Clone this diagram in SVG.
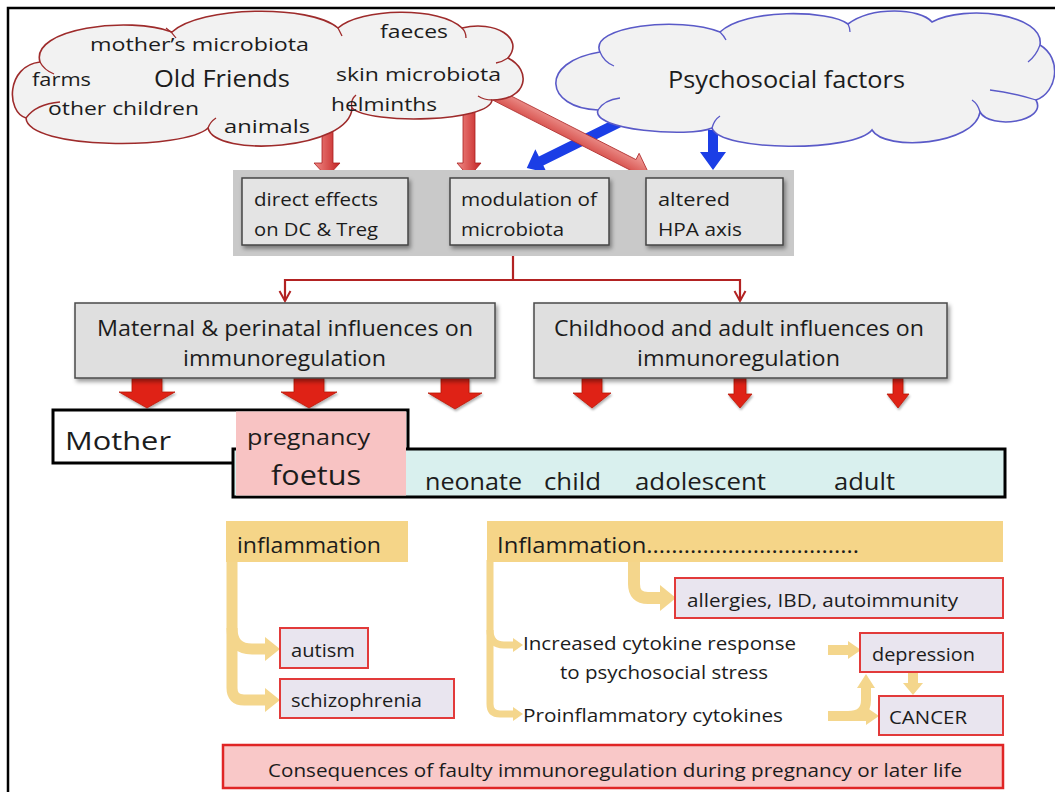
<svg xmlns="http://www.w3.org/2000/svg" width="1055" height="792" viewBox="0 0 1055 792">
<defs>
<style>
.t{font-family:"Open Sans","Liberation Sans",sans-serif;fill:#1c1c1c;}
.s19{font-size:19px}.s21{font-size:21px}.s23{font-size:23px}
.cl{fill:#f2f2f2;stroke-width:1.6}
.in{fill:none;stroke-width:1.3}
.mbox{fill:#e4e4e4;stroke:#454545;stroke-width:1.5}
.ibox{fill:#dfdfdf;stroke:#4a4a4a;stroke-width:1.5}
.out{fill:#e9e5ef;stroke:#e23a3a;stroke-width:2}
.tan{fill:#f5d588}
.ya{fill:none;stroke:#f4d68c;stroke-linecap:butt}
.yh{fill:#f4d68c}
.blk{fill:#df2412;stroke:#b81a0c;stroke-width:0.8}
.blue{fill:#1b3ee6}
</style>
<filter id="sh" x="-10%" y="-10%" width="130%" height="140%">
<feDropShadow dx="2" dy="3" stdDeviation="2" flood-color="#000" flood-opacity="0.4"/>
</filter>
<filter id="sh2" x="-30%" y="-30%" width="160%" height="160%">
<feDropShadow dx="1" dy="2" stdDeviation="1.2" flood-color="#000" flood-opacity="0.3"/>
</filter>
<linearGradient id="rg" x1="0" y1="0" x2="1" y2="0">
<stop offset="0" stop-color="#f08a86"/><stop offset="1" stop-color="#c42222"/>
</linearGradient>
<linearGradient id="rgd" x1="0" y1="0" x2="0" y2="1">
<stop offset="0" stop-color="#f3a5a0"/><stop offset="1" stop-color="#cf3a36"/>
</linearGradient>
<marker id="chev" viewBox="0 0 14 14" refX="12" refY="7" markerWidth="14" markerHeight="14" markerUnits="userSpaceOnUse" orient="auto">
<path d="M2 1.5 L12 7 L2 12.5" fill="none" stroke="#b22222" stroke-width="2"/>
</marker>
</defs>
<rect width="1055" height="792" fill="#fff"/>
<path d="M8 792 V8 H1055" fill="none" stroke="#000" stroke-width="2.5"/>

<g id="connectors">
<g transform="translate(620 122) rotate(153.7)">
<path class="blue" d="M0 -5 H88 V-13 L104 0 L88 13 V5 H0 Z"/>
</g>
<path class="blue" d="M708 130 H718 V152 H726 L713 170 L700 152 H708 Z"/>
<path fill="url(#rg)" stroke="#a82020" stroke-width="0.8" d="M322 130 H333 V163 H340 L327 177 L314 163 H322 Z"/>
<path fill="url(#rg)" stroke="#a82020" stroke-width="0.8" d="M463 98 H475 V163 H481 L469 177 L457 163 H463 Z"/>
<g transform="translate(496 95) rotate(27)">
<path fill="url(#rgd)" stroke="#b03030" stroke-width="0.8" d="M0 -6 H154 V-13 L171 0 L154 13 V6 H0 Z"/>
</g>
<path d="M513 256 V280 H285 V301" fill="none" stroke="#b22222" stroke-width="2.2" marker-end="url(#chev)"/>
<path d="M513 280 H740 V301" fill="none" stroke="#b22222" stroke-width="2.2" marker-end="url(#chev)"/>
<g filter="url(#sh2)">
<path class="blk" d="M132 378 H162 V392 H175 L147 408 L119 392 H132 Z"/>
<path class="blk" d="M294 378 H324 V392 H337 L309 408 L281 392 H294 Z"/>
<path class="blk" d="M441 378 H469 V393 H482 L455 409 L428 393 H441 Z"/>
<path class="blk" d="M582 378 H602 V393 H611 L592 408 L573 393 H582 Z"/>
<path class="blk" d="M734 378 H746 V394 H752 L740 408 L728 394 H734 Z"/>
<path class="blk" d="M893 378 H903 V394 H909 L898 408 L887 394 H893 Z"/>
</g>
<path class="ya" stroke-width="11" d="M232 560 V688 Q232 700 244 700 H266"/>
<path class="ya" stroke-width="11" d="M232 628 Q232 649 252 649 H266"/>
<path class="yh" d="M265 637 L280 649 L265 661 Z"/>
<path class="yh" d="M265 688 L280 700 L265 712 Z"/>
<path class="ya" stroke-width="7" d="M490 560 V704 Q490 714 500 714 H514"/>
<path class="ya" stroke-width="7" d="M490 630 Q490 645 504 645 H514"/>
<path class="yh" d="M513 638 L523 645 L513 652 Z"/>
<path class="yh" d="M513 707 L523 714 L513 721 Z"/>
<path class="ya" stroke-width="12" d="M634 560 V584 Q634 598 648 598 H661"/>
<path class="yh" d="M660 585 L676 598 L660 611 Z"/>
<path class="ya" stroke-width="10" d="M828 650 H849"/>
<path class="yh" d="M848 641 L861 650 L848 659 Z"/>
<path class="ya" stroke-width="10" d="M828 716 H867"/>
<path class="yh" d="M866 707 L879 716 L866 725 Z"/>
<path class="ya" stroke-width="10" d="M848 716 Q866 716 866 700 V688"/>
<path class="yh" d="M857 688 L866 674 L875 688 Z"/>
<path class="ya" stroke-width="10" d="M913 672 V684"/>
<path class="yh" d="M903 683 L913 695 L923 683 Z"/>
</g>

<g id="cloud-old-friends">
<path class="cl" stroke="#9e2b2b" d="M40 62 C30 28 130 16 172 32 C200 6 310 4 338 28 C360 8 440 6 462 28 C495 20 525 38 508 58 C532 70 528 100 492 100 C490 122 370 125 352 108 C350 150 215 158 208 128 C185 150 28 150 26 118 C6 112 6 66 40 62 Z"/>
<path class="in" stroke="#9e2b2b" d="M166 28 Q172 32 176 38 M338 28 Q340 32 342 36 M462 28 Q466 32 466 38 M508 58 Q502 62 496 63 M492 100 Q484 100 478 96 M352 108 Q350 100 356 95 M208 128 Q210 122 216 118 M26 118 Q36 104 60 102 M40 62 Q44 70 54 74"/>
<text class="t s19" x="90" y="51" textLength="219" lengthAdjust="spacingAndGlyphs">mother’s microbiota</text>
<text class="t s19" x="380" y="38" textLength="68" lengthAdjust="spacingAndGlyphs">faeces</text>
<text class="t s19" x="32" y="86" textLength="59" lengthAdjust="spacingAndGlyphs">farms</text>
<text class="t s23" x="154" y="87" textLength="136" lengthAdjust="spacingAndGlyphs">Old Friends</text>
<text class="t s19" x="336" y="81" textLength="165" lengthAdjust="spacingAndGlyphs">skin microbiota</text>
<text class="t s19" x="48" y="115" textLength="151" lengthAdjust="spacingAndGlyphs">other children</text>
<text class="t s19" x="331" y="111" textLength="106" lengthAdjust="spacingAndGlyphs">helminths</text>
<text class="t s19" x="224" y="133" textLength="86" lengthAdjust="spacingAndGlyphs">animals</text>
</g>

<g id="cloud-psychosocial">
<path class="cl" stroke="#5a5ac8" d="M600 52 C588 26 680 16 720 32 C745 8 830 10 848 24 C872 6 920 8 932 22 C965 4 1045 14 1040 45 C1062 58 1058 92 1036 100 C1048 122 990 130 980 112 C975 145 885 152 872 130 C855 152 720 152 712 128 C690 138 590 130 598 110 C545 108 538 62 600 52 Z"/>
<path class="in" stroke="#5a5ac8" d="M600 52 Q604 62 614 66 M720 32 Q724 36 726 40 M848 24 Q850 28 850 32 M1040 45 Q1036 56 1028 62 M1036 100 Q1010 92 990 90 M980 112 Q978 104 972 100 M712 128 Q714 120 720 116 M598 110 Q604 100 620 98"/>
<text class="t s23" x="668" y="88" textLength="237" lengthAdjust="spacingAndGlyphs">Psychosocial factors</text>
</g>

<g id="mechanisms">
<rect x="233" y="170" width="561" height="86" fill="#c9c9c9"/>
<g id="box-direct">
<rect class="mbox" x="242" y="178" width="166" height="67" filter="url(#sh)"/>
<text class="t s19" x="254" y="206" textLength="124" lengthAdjust="spacingAndGlyphs">direct effects</text>
<text class="t s19" x="254" y="236" textLength="124" lengthAdjust="spacingAndGlyphs">on DC &amp; Treg</text>
</g>
<g id="box-modulation">
<rect class="mbox" x="450" y="178" width="159" height="67" filter="url(#sh)"/>
<text class="t s19" x="461" y="206" textLength="136" lengthAdjust="spacingAndGlyphs">modulation of</text>
<text class="t s19" x="461" y="236" textLength="103" lengthAdjust="spacingAndGlyphs">microbiota</text>
</g>
<g id="box-hpa">
<rect class="mbox" x="646" y="178" width="137" height="67" filter="url(#sh)"/>
<text class="t s19" x="658" y="206" textLength="72" lengthAdjust="spacingAndGlyphs">altered</text>
<text class="t s19" x="658" y="236" textLength="84" lengthAdjust="spacingAndGlyphs">HPA axis</text>
</g>
</g>

<g id="maternal">
<rect class="ibox" x="75" y="303" width="420" height="75" filter="url(#sh)"/>
<text class="t s21" x="97" y="336" textLength="376" lengthAdjust="spacingAndGlyphs">Maternal &amp; perinatal influences on</text>
<text class="t s21" x="183" y="366" textLength="203" lengthAdjust="spacingAndGlyphs">immunoregulation</text>
</g>
<g id="childhood">
<rect class="ibox" x="534" y="303" width="413" height="75" filter="url(#sh)"/>
<text class="t s21" x="554" y="336" textLength="370" lengthAdjust="spacingAndGlyphs">Childhood and adult influences on</text>
<text class="t s21" x="637" y="366" textLength="203" lengthAdjust="spacingAndGlyphs">immunoregulation</text>
</g>

<g id="timeline">
<rect x="53" y="410" width="355" height="53" fill="#fff" stroke="#000" stroke-width="3"/>
<rect x="233" y="449" width="772" height="48" fill="#d9f0ee" stroke="#000" stroke-width="3"/>
<rect x="236" y="411.5" width="170" height="84" fill="#f8c3c3"/>
<text class="t" x="65" y="450" font-size="26" textLength="106" lengthAdjust="spacingAndGlyphs">Mother</text>
<text class="t s21" x="247" y="445" textLength="123" lengthAdjust="spacingAndGlyphs">pregnancy</text>
<text class="t" x="271" y="485" font-size="28" textLength="90" lengthAdjust="spacingAndGlyphs">foetus</text>
<text class="t s23" x="425" y="490" textLength="97" lengthAdjust="spacingAndGlyphs">neonate</text>
<text class="t s23" x="544" y="490" textLength="57" lengthAdjust="spacingAndGlyphs">child</text>
<text class="t s23" x="635" y="490" textLength="131" lengthAdjust="spacingAndGlyphs">adolescent</text>
<text class="t s23" x="834" y="490" textLength="61" lengthAdjust="spacingAndGlyphs">adult</text>
</g>

<g id="inflammation-early">
<rect class="tan" x="226" y="521" width="182" height="41"/>
<text class="t s21" x="237" y="553" textLength="144" lengthAdjust="spacingAndGlyphs">inflammation</text>
</g>
<g id="autism">
<rect class="out" x="280" y="628" width="88" height="40"/>
<text class="t s19" x="291" y="657" textLength="64" lengthAdjust="spacingAndGlyphs">autism</text>
</g>
<g id="schizophrenia">
<rect class="out" x="280" y="679" width="174" height="39"/>
<text class="t s19" x="291" y="707" textLength="131" lengthAdjust="spacingAndGlyphs">schizophrenia</text>
</g>

<g id="inflammation-later">
<rect class="tan" x="487" y="521" width="516" height="41"/>
<text class="t s21" x="497" y="553" textLength="362" lengthAdjust="spacingAndGlyphs">Inflammation..................................</text>
</g>
<g id="allergies">
<rect class="out" x="675" y="578" width="328" height="40"/>
<text class="t s19" x="687" y="607" textLength="271" lengthAdjust="spacingAndGlyphs">allergies, IBD, autoimmunity</text>
</g>
<g id="cytokine-response">
<text class="t s19" x="523" y="650" textLength="273" lengthAdjust="spacingAndGlyphs">Increased cytokine response</text>
<text class="t s19" x="560" y="679" textLength="208" lengthAdjust="spacingAndGlyphs">to psychosocial stress</text>
</g>
<g id="proinflammatory">
<text class="t s19" x="523" y="722" textLength="260" lengthAdjust="spacingAndGlyphs">Proinflammatory cytokines</text>
</g>
<g id="depression">
<rect class="out" x="860" y="633" width="143" height="39"/>
<text class="t s19" x="872" y="661" textLength="103" lengthAdjust="spacingAndGlyphs">depression</text>
</g>
<g id="cancer">
<rect class="out" x="879" y="696" width="124" height="39"/>
<text class="t s19" x="889" y="724" textLength="78" lengthAdjust="spacingAndGlyphs">CANCER</text>
</g>
<g id="consequences">
<rect x="223" y="745" width="780" height="43" fill="#f9c8c8" stroke="#e02525" stroke-width="2.5"/>
<text class="t" x="268" y="777" font-size="18" textLength="694" lengthAdjust="spacingAndGlyphs">Consequences of faulty immunoregulation during pregnancy or later life</text>
</g>
</svg>
